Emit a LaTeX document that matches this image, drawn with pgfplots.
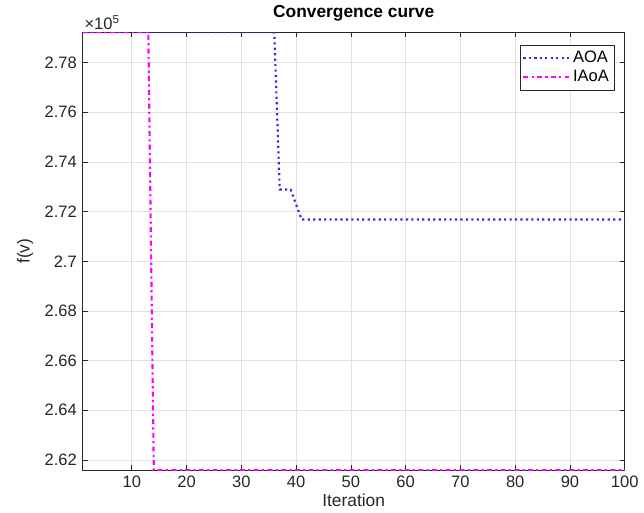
\documentclass[border=0pt]{standalone}
\usepackage{pgfplots}
\pgfplotsset{compat=1.18}
\usepackage{fontspec}
\setmainfont{Liberation Sans}
\definecolor{mlgray}{rgb}{0.15,0.15,0.15}
\definecolor{gridgray}{rgb}{0.88,0.88,0.88}
\definecolor{aoablue}{rgb}{0.18,0.18,0.85}
\definecolor{iaoamag}{rgb}{1,0,1}

\begin{document}
\begin{tikzpicture}
\begin{axis}[
  width=328pt, height=265pt, scale only axis,
  xmin=1, xmax=100, ymin=261590, ymax=279230,
  xtick={10,20,...,100},
  ytick={262000,264000,...,278000},
  scaled y ticks=base 10:-5,
  ytick scale label code/.code={×10\textsuperscript{5}},
  every y tick scale label/.style={at={(rel axis cs:0,1)}, anchor=south west, inner sep=1pt, font=\fontsize{10}{11}\selectfont, text=mlgray},
  yticklabel style={/pgf/number format/fixed, /pgf/number format/precision=2},
  /pgf/number format/assume math mode=true,
  tick label style={font=\fontsize{10}{11}\selectfont, text=mlgray},
  label style={font=\fontsize{10.5}{11}\selectfont, text=mlgray},
  title style={font=\fontsize{10.5}{11}\selectfont\bfseries, yshift=-3pt},
  title={Convergence curve},
  xlabel={Iteration}, ylabel={f(v)},
  xlabel style={yshift=3pt},
  grid=major, major grid style={gridgray, line width=0.5pt},
  axis line style={mlgray, line width=0.5pt},
  tick style={mlgray, line width=0.5pt},
  tick align=inside, major tick length=3pt,
  xtick pos=both, ytick pos=both,
  legend style={font=\fontsize{10}{11}\selectfont, draw=mlgray, line width=0.4pt, at={(0.982,0.97)}, anchor=north east, inner sep=1.5pt, row sep=-1pt},
  legend image post style={xscale=1.6},
  legend cell align=left,
]
\addplot[aoablue, line width=1.3pt, dotted] coordinates {
  (1,279230) (36,279230) (37,272890) (39,272890) (41,271680) (100,271680)
};
\addlegendentry{AOA}
\addplot[iaoamag, line width=1.3pt, dash dot] coordinates {
  (1,279230) (13,279230) (14,261590) (100,261590)
};
\addlegendentry{IAoA}
\end{axis}
\path ([xshift=-7pt]current bounding box.west) coordinate (padl);
\path (padl) -- (current bounding box.east);
\end{tikzpicture}
\end{document}
